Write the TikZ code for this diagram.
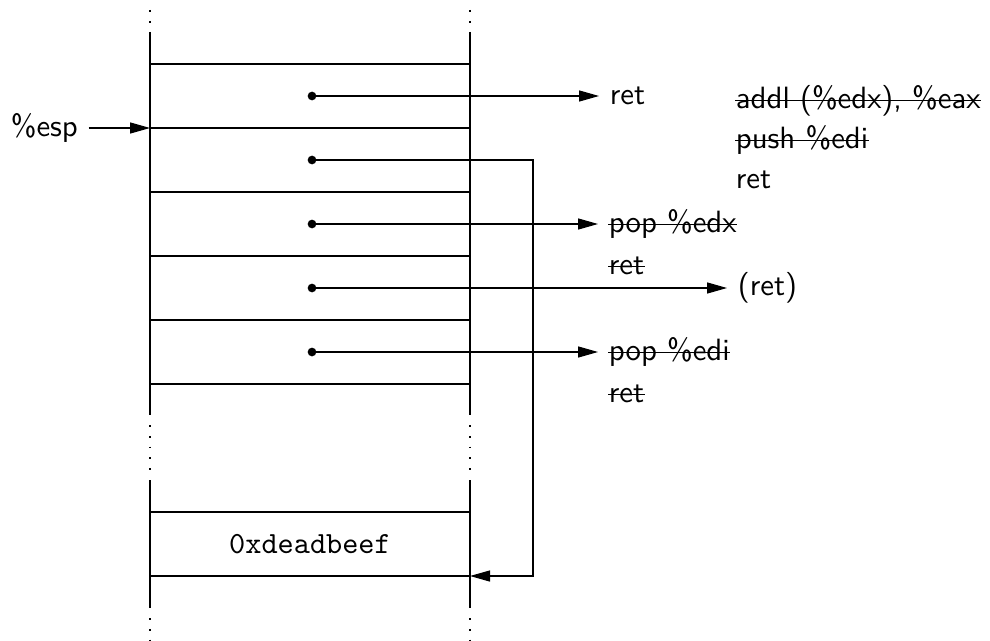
\documentclass[tikz,border=0pt]{standalone}
\usetikzlibrary{arrows.meta, positioning}

\tikzset{
  frame/.style={line width=0.8pt},
  gap/.style={line width=0.6pt, dash pattern=on 0.6pt off 2.9pt},
  ptr/.style={line width=0.35pt, -{Triangle[length=6.5pt,width=3.6pt]}},
  dot/.style={circle, fill, inner sep=1pt},
  insn/.style={anchor=west, font=\sffamily},
  cross/.style={line width=0.45pt},
}

\begin{document}
\begin{tikzpicture}[x=0.325pt, y=-0.325pt]
  \useasboundingbox (0,0) rectangle (990,640);

  % stack frame
  \foreach \x in {150,470} {
    \draw[gap] (\x,10) -- (\x,25);
    \draw[frame] (\x,32) -- (\x,415);
    \draw[gap] (\x,425) -- (\x,472);
    \draw[frame] (\x,480) -- (\x,608);
    \draw[gap] (\x,618) -- (\x,640);
  }
  \foreach \y in {64,128,...,384} \draw[frame] (150,\y) -- (470,\y);
  \foreach \y in {512,576} \draw[frame] (150,\y) -- (470,\y);
  \node[font=\ttfamily] (beefval) at (310,544) {0xdeadbeef};

  % stack pointer
  \node[insn] (esp) at (0,128) {\%esp};
  \coordinate (top) at (150,128);
  \draw[ptr] (esp) -- (top);

  % slots
  \foreach \i/\y in {1/96,2/160,3/224,4/288,5/352}
    \node[dot] (s\i) at (312,\y) {};

  % gadgets
  \node[insn] (g1) at (599,96) {ret};
  \node[insn] (g3) at (598,224) {pop \%edx};
  \node[insn] (g3r) at (598,266) {ret};
  \node[insn] (g4) at (727,288) {(ret)};
  \node[insn] (g5) at (598,352) {pop \%edi};
  \node[insn] (g5r) at (598,394) {ret};

  \node[insn] (a1) at (725,101) {addl (\%edx), \%eax};
  \node[insn] (a2) at (725,140) {push \%edi};
  \node[insn] (a3) at (725,180) {ret};

  % struck out
  \foreach \n in {g3,g3r,g5,g5r,a1,a2}
    \draw[cross] ([xshift=3.33pt,yshift=2.6pt]\n.base west)
      -- ([xshift=-3.33pt,yshift=2.6pt]\n.base east);

  \draw[ptr] (s1.center) -- (g1);
  \draw[ptr] (s3.center) -- (g3);
  \draw[ptr] (s4.center) -- (g4);
  \draw[ptr] (s5.center) -- (g5);

  % pointer back into the stack
  \coordinate (turn) at (533,160);
  \coordinate (beef) at (470,576);
  \draw[ptr] (s2.center) -- (turn) |- (beef);
\end{tikzpicture}
\end{document}
